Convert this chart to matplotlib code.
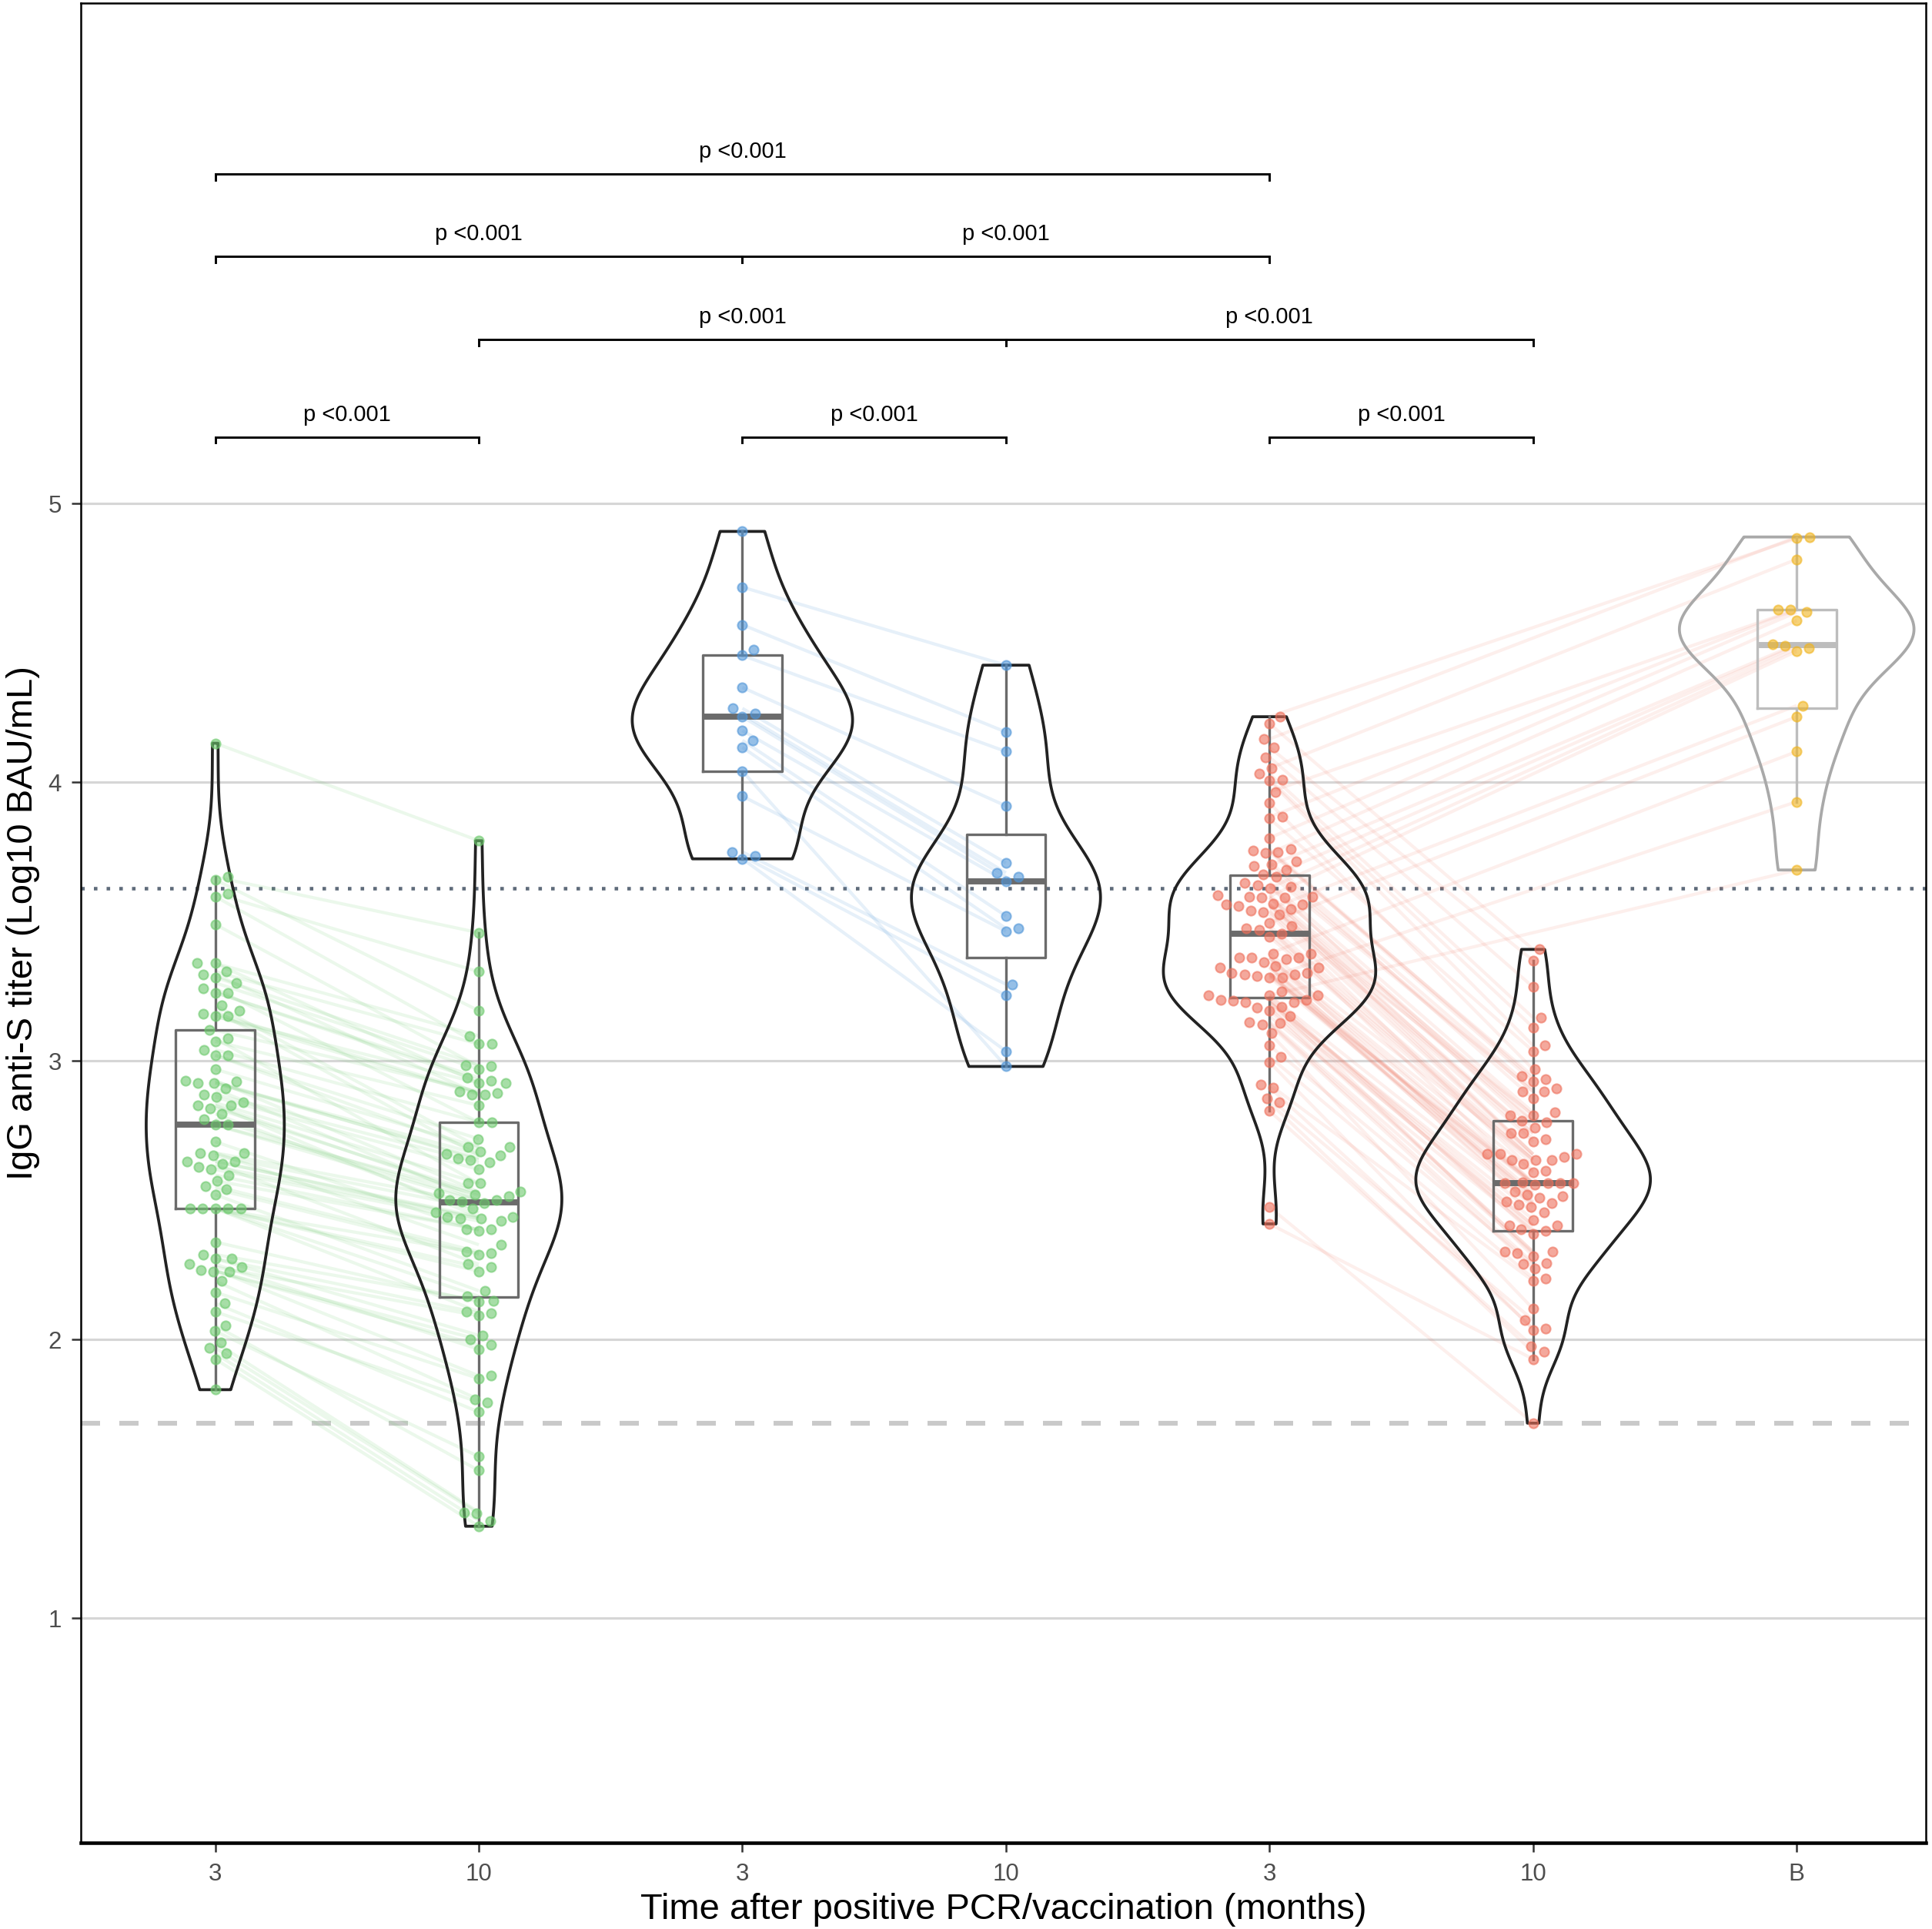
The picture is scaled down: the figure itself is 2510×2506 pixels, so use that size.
import numpy as np
import matplotlib.pyplot as plt
from matplotlib.patches import Polygon

plt.rcParams['font.family'] = ['Liberation Sans', 'DejaVu Sans']

# IgG anti-S titer, log10 BAU/mL. Same index = same subject within a pair.
green_3 = [4.14, 3.65, 3.66, 3.59, 3.60, 3.49, 3.35, 3.35, 3.32, 3.31,
           3.30, 3.28, 3.26, 3.245, 3.245, 3.20, 3.17, 3.16, 3.16, 3.18,
           3.11, 3.07, 3.08, 3.04, 3.02, 3.02, 2.97, 2.93, 2.92, 2.92,
           2.925, 2.90, 2.88, 2.87, 2.85, 2.84, 2.83, 2.84, 2.81, 2.79,
           2.77, 2.77, 2.71, 2.67, 2.66, 2.67, 2.64, 2.64, 2.62, 2.61,
           2.63, 2.59, 2.57, 2.55, 2.54, 2.52, 2.47, 2.47, 2.47, 2.47,
           2.47, 2.35, 2.305, 2.29, 2.29, 2.26, 2.25, 2.245, 2.245, 2.27,
           2.21, 2.17, 2.13, 2.10, 2.05, 2.03, 1.99, 1.97, 1.95, 1.93,
           1.82]
green_10 = [3.79, 3.18, 3.46, 3.06, 3.32, 2.98, 3.09, 2.92, 3.06, 2.88,
            2.985, 2.97, 2.78, 2.93, 2.94, 2.69, 2.885, 2.92, 2.88, 2.66,
            2.89, 2.84, 2.56, 2.78, 2.72, 2.675, 2.69, 2.53, 2.665, 2.65,
            2.645, 2.50, 2.635, 2.61, 2.56, 2.44, 2.525, 2.515, 2.455, 2.50,
            2.495, 2.52, 2.39, 2.49, 2.47, 2.34, 2.44, 2.435, 2.435, 2.425,
            2.27, 2.395, 2.395, 2.315, 2.305, 2.175, 2.31, 2.26, 2.245, 2.10,
            2.155, 2.135, 2.14, 2.015, 2.095, 2.085, 1.87, 2.00, 1.98, 1.965,
            1.785, 1.86, 1.74, 1.775, 1.53, 1.58, 1.38, 1.375, 1.35, 1.33]
blue_3 = [4.70, 4.565, 4.455, 4.34, 4.265, 4.245, 4.235, 4.185, 4.15, 4.125,
          4.04, 3.95, 3.75, 3.735, 3.725, 4.90, 4.475]
blue_10 = [4.42, 4.18, 4.11, 3.915, 3.71, 3.675, 3.66, 3.645, 3.52, 3.475,
           2.98, 3.465, 3.275, 3.235, 3.035]
# first 73 paired with red_10, next 2 unpaired, last 16 paired with booster
red_3 = [4.21, 4.09, 4.125, 4.01, 4.03, 3.925, 4.005, 3.76, 3.87, 3.715,
         3.75, 3.755, 3.67, 3.705, 3.685, 3.595, 3.64, 3.63, 3.555, 3.625,
         3.59, 3.585, 3.54, 3.585, 3.565, 3.56, 3.47, 3.56, 3.535, 3.525,
         3.485, 3.385, 3.475, 3.455, 3.445, 3.37, 3.335, 3.37, 3.355, 3.37,
         3.31, 3.315, 3.305, 3.335, 3.30, 3.34, 3.31, 3.22, 3.315, 3.235,
         3.21, 3.235, 3.195, 3.22, 3.21, 3.215, 3.16, 3.18, 3.19, 3.13,
         3.14, 3.135, 3.055, 3.10, 3.015, 2.915, 2.995, 2.865, 2.905, 2.85,
         2.82, 2.475, 2.415,
         3.365, 3.25,
         4.235, 4.155, 4.05, 3.965, 3.875, 3.80, 3.745, 3.70, 3.66, 3.62,
         3.59, 3.545, 3.495, 3.385, 3.30, 3.235]
red_10 = [3.40, 3.265, 3.36, 3.12, 3.155, 2.97, 3.055, 2.935, 3.035, 2.90,
          2.945, 2.925, 2.89, 2.865, 2.89, 2.805, 2.815, 2.76, 2.805, 2.785,
          2.72, 2.78, 2.74, 2.665, 2.74, 2.71, 2.645, 2.665, 2.665, 2.605,
          2.655, 2.645, 2.56, 2.645, 2.63, 2.60, 2.53, 2.565, 2.56, 2.495,
          2.56, 2.56, 2.555, 2.475, 2.52, 2.515, 2.51, 2.43, 2.49, 2.485,
          2.455, 2.38, 2.41, 2.41, 2.395, 2.30, 2.39, 2.315, 2.315, 2.255,
          2.31, 2.275, 2.27, 2.11, 2.22, 2.21, 2.035, 2.07, 2.04, 1.955,
          1.975, 1.70, 1.93]
booster = [4.875, 4.88, 4.80, 4.62, 4.62, 4.61, 4.58, 4.495, 4.49, 4.48,
           4.47, 4.275, 4.235, 4.11, 3.93, 3.685]

tick_labels = ['3', '10', '3', '10', '3', '10', 'B']
cutoff_low = 1.70
cutoff_high = 3.62
comparisons = [(1, 5), (1, 3), (3, 5), (2, 4), (4, 6), (1, 2), (3, 4), (5, 6)]
bracket_y = [6.182, 5.887, 5.887, 5.588, 5.588, 5.239, 5.239, 5.239]
p_label = 'p <0.001'

groups = [green_3, green_10, blue_3, blue_10, red_3, red_10, booster]
colors = ['#6cc96c', '#6cc96c', '#4f95d8', '#4f95d8', '#ee6f5a', '#ee6f5a', '#f0b41e']
line_alpha = [0.13, 0.13, 0.14, 0.14, 0.11, 0.11, 0.11]
# (group a, group b, slice in a, slice in b)
links = [(0, 1, slice(0, 80), slice(0, 80)),
         (2, 3, slice(0, 15), slice(0, 15)),
         (4, 5, slice(0, 73), slice(0, 73)),
         (4, 6, slice(75, 91), slice(0, 16))]

W, H, DPI = 2510, 2506, 300
fig = plt.figure(figsize=(W / DPI, H / DPI), dpi=DPI)
ax_l, ax_r, ax_t, ax_b = 105, 2502, 4, 2394
ax = fig.add_axes([ax_l / W, 1 - ax_b / H, (ax_r - ax_l) / W, (ax_b - ax_t) / H])
xlim = (0.49, 7.49)
ylim = (0.194, 6.796)
ax.set_xlim(*xlim)
ax.set_ylim(*ylim)
sx = (ax_r - ax_l) / (xlim[1] - xlim[0])
sy = (ax_b - ax_t) / (ylim[1] - ylim[0])


def swarm(vals, d):
    # beeswarm offsets (data units) with centre spacing d pixels
    v = np.asarray(vals)
    ys = v * sy
    out = np.zeros(len(v))
    placed = []
    for i in np.argsort(v, kind='stable'):
        y = ys[i]
        near = [(px, py) for px, py in placed if abs(py - y) < d]
        cands = [0.0]
        for px, py in near:
            dx = np.sqrt(d * d - (py - y) ** 2)
            cands += [px + dx, px - dx]
        cands.sort(key=abs)
        for c in cands:
            if all((c - px) ** 2 + (y - py) ** 2 >= d * d - 1e-6 for px, py in near):
                break
        placed.append((c, y))
        out[i] = c / sx
    return out


def density(vals):
    v = np.asarray(vals)
    n = len(v)
    q75, q25 = np.percentile(v, [75, 25])
    bw = 0.9 * min(np.std(v, ddof=1), (q75 - q25) / 1.34) * n ** -0.2
    grid = np.linspace(v.min(), v.max(), 512)
    dens = np.exp(-0.5 * ((grid[:, None] - v[None, :]) / bw) ** 2).sum(1)
    dens /= n * bw * np.sqrt(2 * np.pi)
    return grid, dens


# reference lines
ax.set_axisbelow(True)
ax.yaxis.grid(True, color='#d6d6d6', lw=0.75)
ax.axhline(cutoff_low, color='#c9c9c9', lw=1.5, ls=(0, (4, 4)), zorder=1.5)
ax.axhline(cutoff_high, color='#5f6b7a', lw=1.1, ls=(0, (1, 2.6)), zorder=1.5)

# paired lines
for a, b, sa, sb in links:
    va = np.asarray(groups[a])[sa]
    vb = np.asarray(groups[b])[sb]
    for y1, y2 in zip(va, vb):
        ax.plot([a + 1, b + 1], [y1, y2], color=colors[a], alpha=line_alpha[b],
                lw=1.0, zorder=2, solid_capstyle='butt')

# violins, area scaled, none wider than 0.9 unit
dens_all = [density(g) for g in groups]
dmax = max(d.max() for _, d in dens_all)
for i, (grid, d) in enumerate(dens_all):
    pos = i + 1
    hw = d * min(0.5 / dmax, 0.445 / d.max())
    xs = np.concatenate([pos - hw, (pos + hw)[::-1]])
    ys = np.concatenate([grid, grid[::-1]])
    ec = '#a9a9a9' if i == 6 else '#222222'
    ax.add_patch(Polygon(np.column_stack([xs, ys]), closed=True, fill=False,
                         ec=ec, lw=0.9, joinstyle='round', zorder=3))

# boxes
for i, g in enumerate(groups):
    bc = '#bdbdbd' if i == 6 else '#6b6b6b'
    ax.boxplot([g], positions=[i + 1], widths=0.3, showfliers=False,
               showcaps=False, manage_ticks=False,
               boxprops=dict(color=bc, lw=0.8),
               whiskerprops=dict(color=bc, lw=0.8),
               medianprops=dict(color=bc, lw=1.9),
               zorder=4)

# points
for i, g in enumerate(groups):
    off = swarm(g, 16.5)
    ax.scatter(i + 1 + off, g, s=8.5, color=colors[i], alpha=0.6,
               linewidths=0.5, zorder=5)

# significance brackets
tick_h = 0.021
for (x1, x2), yb in zip(comparisons, bracket_y):
    ax.plot([x1, x1, x2, x2], [yb - tick_h, yb, yb, yb - tick_h],
            color='black', lw=0.7, zorder=6, solid_joinstyle='miter')
    ax.text((x1 + x2) / 2, yb + 0.058, p_label, ha='center', va='baseline',
            fontsize=7.0, color='black')

ax.set_xticks(range(1, 8))
ax.set_xticklabels(tick_labels)
ax.set_yticks([1, 2, 3, 4, 5])
ax.tick_params(axis='both', length=2.9, width=0.6, color='#333333',
               labelsize=7.5, labelcolor='#4d4d4d')
ax.tick_params(axis='x', pad=3.4)
ax.tick_params(axis='y', pad=3.1)
for s in ax.spines.values():
    s.set_linewidth(0.6)
    s.set_color('black')
ax.spines['bottom'].set_linewidth(1.1)

fig.text(30 / W, 1 - (ax_t + ax_b) / 2 / H, 'IgG anti-S titer (Log10 BAU/mL)',
         rotation=90, ha='center', va='center', fontsize=11.3)
fig.text((ax_l + ax_r) / 2 / W, 1 - 2481 / H,
         'Time after positive PCR/vaccination (months)',
         ha='center', va='center', fontsize=11.3)

fig.savefig('out.png', dpi=DPI)
